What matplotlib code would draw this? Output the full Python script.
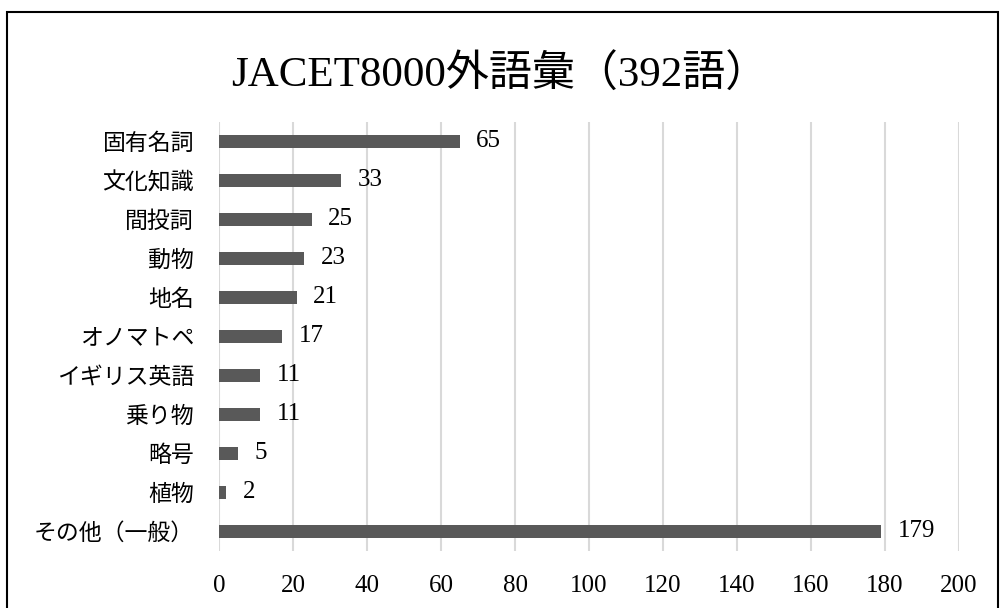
import matplotlib.pyplot as plt
from matplotlib.patches import Rectangle

# categories (top to bottom) and word counts
categories = ['固有名詞', '文化知識', '間投詞', '動物', '地名', 'オノマトペ',
              'イギリス英語', '乗り物', '略号', '植物', 'その他（一般）']
counts = [65, 33, 25, 23, 21, 17, 11, 11, 5, 2, 179]
xticks = [0, 20, 40, 60, 80, 100, 120, 140, 160, 180, 200]

plt.rcParams['font.family'] = ['Liberation Serif', 'Noto Sans CJK JP', 'DejaVu Sans']

fig = plt.figure(figsize=(10, 6.08), dpi=100)
ax = fig.add_axes([0.219, 0.0938, 0.74, 0.7056])

pos = list(range(len(categories)))
ax.barh(pos, counts, height=0.31, color='#595959', zorder=3)

for p, v in zip(pos, counts):
    ax.annotate(str(v), (v, p), xytext=(12, 0), textcoords='offset points',
                ha='left', va='center', fontsize=18, color='#000000')

ax.set_yticks(pos)
ax.set_yticklabels(categories, fontsize=16.5)
ax.set_ylim(len(categories) - 0.5, -0.5)
ax.set_xlim(0, 200)
ax.set_xticks(xticks)
ax.set_xticklabels([str(t) for t in xticks], fontsize=18)
ax.tick_params(length=0)
ax.tick_params(axis='x', pad=17)
ax.tick_params(axis='y', pad=18)
ax.xaxis.grid(True, color='#d9d9d9', linewidth=1.5, zorder=0)
ax.set_axisbelow(True)
for s in ax.spines.values():
    s.set_visible(False)

fig.text(0.5, 1 - 75 / 608, 'JACET8000外語彙（392語）', ha='center', va='center',
         fontsize=31)

# outer frame of the chart
fig.patches.append(Rectangle((0.007, -0.01), 0.991, 1 - 12 / 608 + 0.01,
                             transform=fig.transFigure, fill=False,
                             edgecolor='#000000', linewidth=1.5))

plt.savefig('out.png', dpi=100)
